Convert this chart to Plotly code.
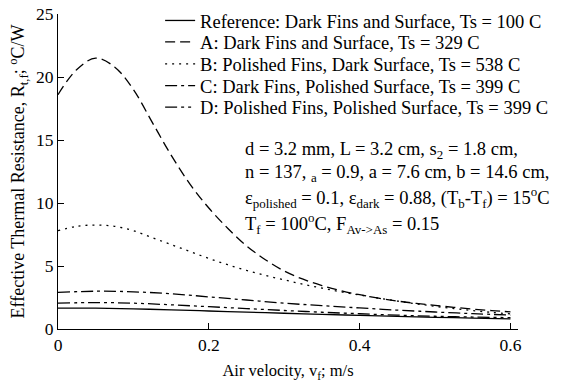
import plotly.graph_objects as go

# Air velocity grids (m/s)
v_fine = [0.0, 0.025, 0.05, 0.075, 0.1, 0.125, 0.15, 0.175, 0.2, 0.225, 0.25, 0.275,
          0.3, 0.325, 0.35, 0.375, 0.4, 0.425, 0.45, 0.475, 0.5, 0.525, 0.55, 0.575, 0.6]
v_coarse = [0.0, 0.05, 0.1, 0.15, 0.2, 0.25, 0.3, 0.35, 0.4, 0.45, 0.5, 0.55, 0.6]

# Effective thermal resistance (C/W)
R_A = [18.6, 20.6, 21.5, 20.8, 19.0, 16.4, 13.8, 11.5, 9.6, 8.0, 6.6, 5.5,
       4.6, 3.95, 3.45, 3.05, 2.72, 2.45, 2.22, 2.03, 1.87, 1.72, 1.58, 1.46, 1.36]
R_B = [7.8, 8.15, 8.25, 8.15, 7.8, 7.25, 6.7, 6.15, 5.6, 5.1, 4.65, 4.25,
       3.9, 3.55, 3.25, 2.95, 2.7, 2.45, 2.22, 2.0, 1.8, 1.62, 1.46, 1.32, 1.2]
R_C = [2.9, 3.0, 2.95, 2.8, 2.55, 2.3, 2.05, 1.85, 1.67, 1.5, 1.35, 1.22, 1.1]
R_D = [2.05, 2.1, 2.05, 1.92, 1.77, 1.62, 1.47, 1.33, 1.21, 1.1, 1.01, 0.95, 0.9]
R_ref = [1.65, 1.65, 1.6, 1.52, 1.43, 1.34, 1.25, 1.16, 1.08, 1.0, 0.93, 0.87, 0.8]

names = ["Reference: Dark Fins and Surface, Ts = 100 C",
         "A: Dark Fins and Surface, Ts = 329 C",
         "B: Polished Fins, Dark Surface, Ts = 538 C",
         "C: Dark Fins, Polished Surface, Ts = 399 C",
         "D: Polished Fins, Polished Surface, Ts = 399 C"]

info_lines = ["d = 3.2 mm, L = 3.2 cm, s<sub>2</sub> = 1.8 cm,",
              "n = 137, <sub>a</sub> = 0.9, a = 7.6 cm, b = 14.6 cm,",
              "ε<sub>polished</sub> = 0.1, ε<sub>dark</sub> = 0.88, (T<sub>b</sub>-T<sub>f</sub>) = 15<sup>o</sup>C",
              "T<sub>f</sub> = 100<sup>o</sup>C, F<sub>Av->As</sub> = 0.15"]

FONT = "Liberation Serif, Times New Roman, serif"

series = [
    (v_coarse, R_ref, "solid"),
    (v_fine, R_A, "10px,5px"),
    (v_fine, R_B, "2px,5px"),
    (v_coarse, R_C, "12px,4px,3px,4px"),
    (v_coarse, R_D, "12px,4px,3px,4px,3px,4px"),
]

legend_ids = ["legend", "legend2", "legend3", "legend4", "legend5"]
legend_y = [0.978, 0.910, 0.840, 0.771, 0.703]

fig = go.Figure()
for (xs, ys, dash), nm, lid in zip(series, names, legend_ids):
    fig.add_trace(go.Scatter(x=xs, y=ys, mode="lines", name=nm, legend=lid,
                             line=dict(color="black", width=1.3, dash=dash, shape="spline")))

legends = {}
for lid, ly in zip(legend_ids, legend_y):
    legends[lid] = dict(x=0.222, y=ly, xanchor="left", yanchor="middle",
                        bgcolor="rgba(0,0,0,0)", font=dict(family=FONT, size=18.5, color="black"),
                        itemwidth=30)

info_y = [0.566, 0.493, 0.417, 0.335]
for txt, yy in zip(info_lines, info_y):
    fig.add_annotation(text=txt, x=0.402, y=yy, xref="paper", yref="paper",
                       xanchor="left", yanchor="middle", showarrow=False,
                       font=dict(family=FONT, size=18.5, color="black"))

fig.update_layout(
    width=572, height=384,
    margin=dict(l=58, r=54, t=14, b=55, autoexpand=False),
    paper_bgcolor="white", plot_bgcolor="white",
    font=dict(family=FONT, size=17.5, color="black"),
    showlegend=True,
    **legends,
    xaxis=dict(range=[0, 0.61], tickvals=[0, 0.2, 0.4, 0.6], ticktext=["0", "0.2", "0.4", "0.6"],
               ticks="inside", ticklen=6, tickcolor="black", showline=True, linecolor="black",
               linewidth=1.2, showgrid=False, zeroline=False, automargin=False,
               title=dict(text="Air velocity, v<sub>f</sub>; m/s", standoff=10,
                          font=dict(family=FONT, size=16.5))),
    yaxis=dict(range=[0, 25], tickvals=[0, 5, 10, 15, 20, 25],
               ticks="inside", ticklen=6, tickcolor="black", showline=True, linecolor="black",
               linewidth=1.2, showgrid=False, zeroline=False, automargin=False,
               title=dict(text="Effective Thermal Resistance, R<sub>t,f</sub>; <sup>o</sup>C/W", standoff=6,
                          font=dict(family=FONT, size=18))),
)

fig.write_html("out.html")
